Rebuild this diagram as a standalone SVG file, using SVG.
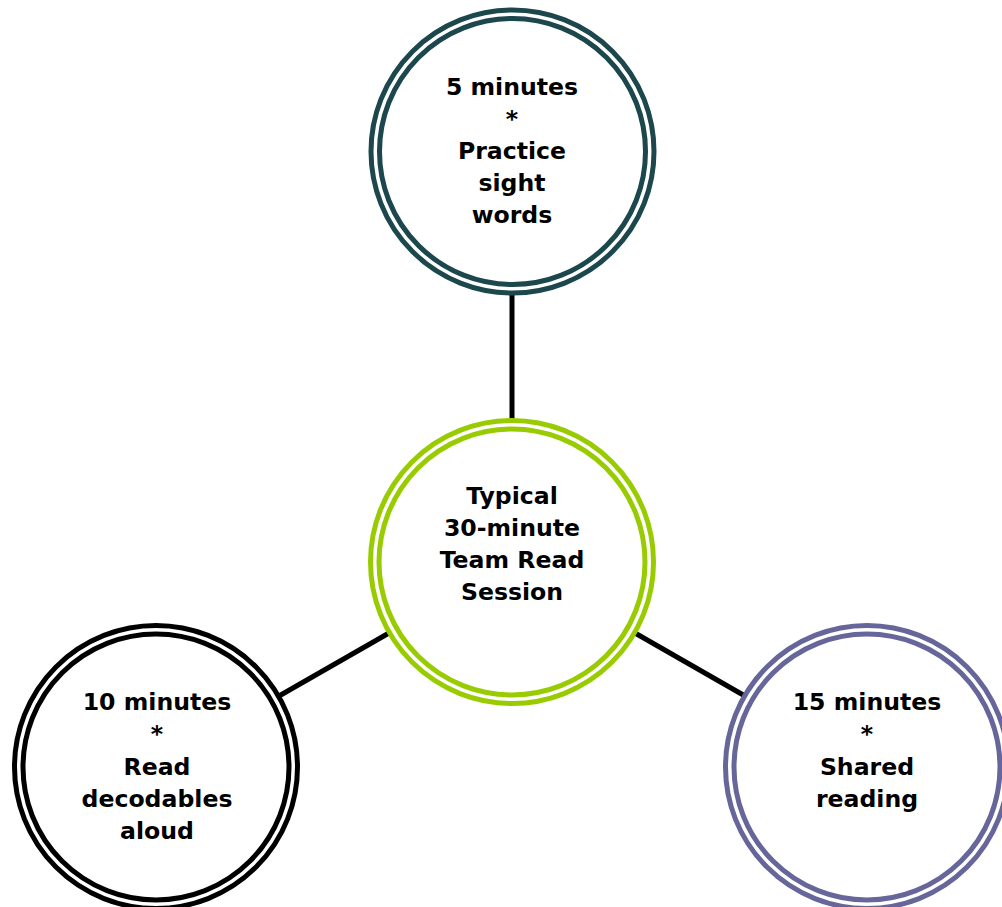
<svg xmlns="http://www.w3.org/2000/svg" width="1002" height="907" viewBox="0 0 1002 907">
<style>
.ring{fill:#ffffff;stroke-width:5}
.inner{fill:none;stroke-width:5}
.lbl{font-family:"DejaVu Sans","Liberation Sans",sans-serif;font-weight:bold;font-size:23.6px;fill:#000000;text-anchor:middle}
.conn{stroke:#000000;stroke-width:5;fill:none}
</style>
<rect width="1002" height="907" fill="#ffffff"/>
<g id="connectors">
<line class="conn" x1="512" y1="290" x2="512" y2="422"/>
<line class="conn" x1="389" y1="633" x2="279" y2="696"/>
<line class="conn" x1="635" y1="633" x2="745" y2="696"/>
</g>
<g id="node-top">
<circle class="ring" cx="512.5" cy="151.5" r="141.5" stroke="#1b474d"/>
<circle class="inner" cx="512.5" cy="151.5" r="133" stroke="#1b474d"/>
<text class="lbl" x="512" y="95">5 minutes</text>
<text class="lbl" x="512" y="127">*</text>
<text class="lbl" x="512" y="159">Practice</text>
<text class="lbl" x="512" y="191">sight</text>
<text class="lbl" x="512" y="223">words</text>
</g>
<g id="node-center">
<circle class="ring" cx="512" cy="562" r="141.5" stroke="#99cc00"/>
<circle class="inner" cx="512" cy="562" r="133" stroke="#99cc00"/>
<text class="lbl" x="512" y="504">Typical</text>
<text class="lbl" x="512" y="536">30-minute</text>
<text class="lbl" x="512" y="568">Team Read</text>
<text class="lbl" x="512" y="600">Session</text>
</g>
<g id="node-left">
<circle class="ring" cx="156" cy="767" r="141.5" stroke="#000000"/>
<circle class="inner" cx="156" cy="767" r="133" stroke="#000000"/>
<text class="lbl" x="157" y="710">10 minutes</text>
<text class="lbl" x="157" y="742">*</text>
<text class="lbl" x="157" y="775">Read</text>
<text class="lbl" x="157" y="807">decodables</text>
<text class="lbl" x="157" y="839">aloud</text>
</g>
<g id="node-right">
<circle class="ring" cx="867" cy="767" r="141.5" stroke="#66669a"/>
<circle class="inner" cx="867" cy="767" r="133" stroke="#66669a"/>
<text class="lbl" x="867" y="710">15 minutes</text>
<text class="lbl" x="867" y="742">*</text>
<text class="lbl" x="867" y="775">Shared</text>
<text class="lbl" x="867" y="807">reading</text>
</g>
</svg>
